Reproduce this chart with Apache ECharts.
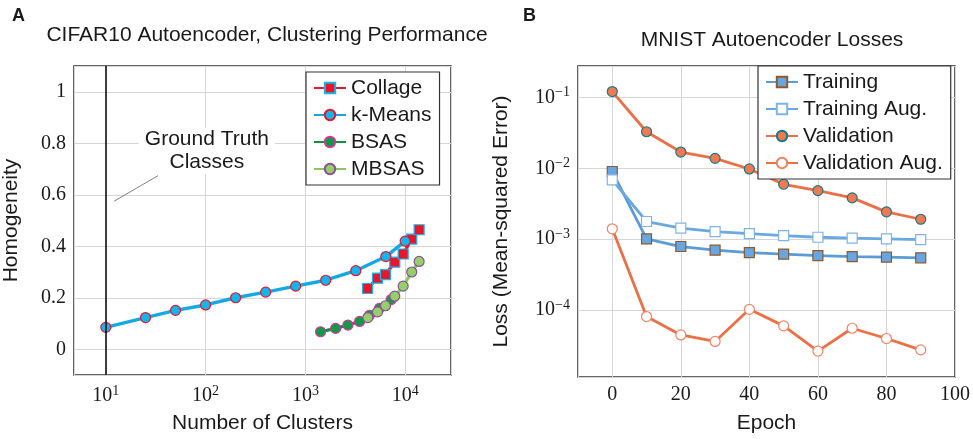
<!DOCTYPE html>
<html>
<head>
<meta charset="utf-8">
<script src="https://cdn.jsdelivr.net/npm/echarts@6/dist/echarts.min.js"></script>
<style>
    html, body { margin: 0; padding: 0; background: #fff; }
    #chart { width: 973px; height: 439px; }
</style>
</head>
<body>
<div id="chart"></div>
<script>
// panel A: CIFAR10 clustering
const kmeansClusters = [10, 25, 50, 100, 200, 400, 800, 1600, 3200, 6400, 10000]
const kmeansHomogeneity = [0.085, 0.123, 0.151, 0.172, 0.2, 0.222, 0.245, 0.268, 0.305, 0.36, 0.42]
const collageClusters = [4200, 5280, 6350, 7870, 9550, 11640, 13800]
const collageHomogeneity = [0.236, 0.276, 0.29, 0.338, 0.37, 0.428, 0.464]
const bsasClusters = [1420, 2010, 2670, 3490, 4400, 5530, 7240]
const bsasHomogeneity = [0.068, 0.081, 0.094, 0.108, 0.132, 0.159, 0.193]
const mbsasClusters = [4230, 5280, 6350, 7870, 9550, 11640, 13800]
const mbsasHomogeneity = [0.123, 0.145, 0.169, 0.206, 0.245, 0.3, 0.341]
const groundTruthClasses = 10

// panel B: MNIST losses
const epochs = [0, 10, 20, 30, 40, 50, 60, 70, 80, 90]
const trainingLoss = [0.00902, 0.00101, 0.000787, 0.0007, 0.000647, 0.000614, 0.000586, 0.000568, 0.000557, 0.000545]
const trainingAugLoss = [0.00689, 0.001775, 0.00143, 0.00128, 0.0012, 0.001125, 0.001064, 0.001032, 0.00101, 0.000987]
const validationLoss = [0.1215, 0.0329, 0.017, 0.01385, 0.0098, 0.00596, 0.00485, 0.00383, 0.00243, 0.00191]
const validationAugLoss = [0.0014, 0.0000807, 0.0000444, 0.0000359, 0.000102, 0.0000596, 0.0000262, 0.0000552, 0.0000395, 0.0000273]

const SANS = 'Liberation Sans'
const SERIF = 'Liberation Serif'
const INK = '#1a1a1a'

const zip = (xs, ys) => xs.map((x, i) => [x, ys[i]])

const powLabel = (v) => {
    const e = Math.round(Math.log10(v))
    return '{b|10}{s|' + (e < 0 ? '\u2212' + (-e) : e) + '}'
}

const powRich = {
    b: {fontFamily: SERIF, fontSize: 20, lineHeight: 24, color: INK},
    s: {fontFamily: SERIF, fontSize: 14, lineHeight: 15, verticalAlign: 'top', color: INK}
}

const splitLine = {show: true, lineStyle: {color: '#d6d6d6', width: 1}}

const lineSeries = (name, data, axis, color, symbol, fill, border, width) => ({
    name: name,
    type: 'line',
    xAxisIndex: axis,
    yAxisIndex: axis,
    data: data,
    symbol: symbol,
    symbolSize: symbol === 'rect' ? 10 : 10,
    showAllSymbol: true,
    lineStyle: {color: color, width: width},
    itemStyle: {color: fill, borderColor: border, borderWidth: 1.2},
    emphasis: {disabled: true},
    z: 3
})

const legendBase = {
    orient: 'vertical',
    backgroundColor: '#fff',
    borderColor: '#333',
    borderWidth: 1.2,
    borderRadius: 0,
    itemWidth: 32,
    itemHeight: 13,
    itemGap: 5,
    padding: [5, 8, 5, 7],
    textStyle: {fontFamily: SANS, fontSize: 21, color: INK, lineHeight: 22},
    z: 10
}

let chart = echarts.init(document.getElementById('chart'), null, {renderer: 'canvas'})
let options = {
    animation: false,
    backgroundColor: '#fff',
    title: [
        {text: 'A', left: 7, top: 2, textStyle: {fontFamily: SANS, fontSize: 18, fontWeight: 'bold', color: INK}},
        {text: 'CIFAR10 Autoencoder, Clustering Performance', left: 262, top: 20, textAlign: 'center',
            textStyle: {fontFamily: SANS, fontSize: 21, fontWeight: 'normal', color: INK}},
        {text: 'B', left: 518, top: 2, textStyle: {fontFamily: SANS, fontSize: 18, fontWeight: 'bold', color: INK}},
        {text: 'MNIST Autoencoder Losses', left: 767, top: 25, textAlign: 'center',
            textStyle: {fontFamily: SANS, fontSize: 21, fontWeight: 'normal', color: INK}}
    ],
    grid: [
        {left: 74, top: 66, width: 377, height: 311, show: true, borderColor: '#333', borderWidth: 1.5},
        {left: 578, top: 66, width: 377, height: 312, show: true, borderColor: '#333', borderWidth: 1.5}
    ],
    legend: [
        Object.assign({}, legendBase, {
            data: ['Collage', 'k-Means', 'BSAS', 'MBSAS'],
            left: 306, top: 72
        }),
        Object.assign({}, legendBase, {
            data: ['Training', 'Training Aug.', 'Validation', 'Validation Aug.'],
            left: 758, top: 66
        })
    ],
    xAxis: [
        {
            gridIndex: 0, type: 'log', min: 4.8, max: 28800,
            name: 'Number of Clusters', nameLocation: 'middle', nameGap: 38,
            nameTextStyle: {fontFamily: SANS, fontSize: 21, color: INK},
            axisLine: {show: false}, axisTick: {show: false},
            axisLabel: {formatter: powLabel, rich: powRich, margin: 9, showMinLabel: false, showMaxLabel: false},
            splitLine: splitLine
        },
        {
            gridIndex: 1, type: 'value', min: -10, max: 100,
            name: 'Epoch', nameLocation: 'middle', nameGap: 36,
            nameTextStyle: {fontFamily: SANS, fontSize: 21, color: INK},
            axisLine: {show: false}, axisTick: {show: false},
            axisLabel: {fontFamily: SERIF, fontSize: 20, color: INK, margin: 8, showMinLabel: false},
            splitLine: splitLine
        }
    ],
    yAxis: [
        {
            gridIndex: 0, type: 'value', min: -0.1, max: 1.1,
            name: 'Homogeneity', nameLocation: 'middle', nameGap: 52,
            nameTextStyle: {fontFamily: SANS, fontSize: 21, color: INK},
            axisLine: {show: false}, axisTick: {show: false},
            axisLabel: {fontFamily: SERIF, fontSize: 20, color: INK, margin: 8, showMinLabel: false, showMaxLabel: false},
            splitLine: splitLine
        },
        {
            gridIndex: 1, type: 'log', min: 1.13e-5, max: 0.279,
            name: 'Loss (Mean-squared Error)', nameLocation: 'middle', nameGap: 66,
            nameTextStyle: {fontFamily: SANS, fontSize: 21, color: INK},
            axisLine: {show: false}, axisTick: {show: false},
            axisLabel: {formatter: powLabel, rich: powRich, margin: 8, showMinLabel: false, showMaxLabel: false},
            splitLine: splitLine
        }
    ],
    series: [
        lineSeries('Collage', zip(collageClusters, collageHomogeneity), 0, '#e8162a', 'rect', '#e8162a', '#19b4ec', 3.2),
        Object.assign(
            lineSeries('k-Means', zip(kmeansClusters, kmeansHomogeneity), 0, '#14a9e4', 'circle', '#14b4ec', '#e8162a', 3.4),
            {
                markLine: {
                    silent: true,
                    symbol: 'none',
                    label: {show: false},
                    emphasis: {disabled: true},
                    data: [
                        {xAxis: groundTruthClasses, lineStyle: {color: '#111', width: 1.6, type: 'solid'}},
                        [
                            {coord: [12.1, 0.575], lineStyle: {color: '#808080', width: 1, type: 'solid'}},
                            {coord: [33.3, 0.674]}
                        ]
                    ]
                },
                markPoint: {
                    silent: true,
                    symbol: 'circle',
                    symbolSize: 0,
                    data: [{
                        coord: [103, 0.77],
                        label: {
                            show: true, position: 'inside',
                            formatter: 'Ground Truth\nClasses',
                            fontFamily: SANS, fontSize: 21, lineHeight: 23, color: INK,
                            backgroundColor: '#fff', padding: [0, 6]
                        }
                    }]
                }
            }
        ),
        lineSeries('BSAS', zip(bsasClusters, bsasHomogeneity), 0, '#0f8f3f', 'circle', '#0f9a44', '#d2379e', 3.2),
        lineSeries('MBSAS', zip(mbsasClusters, mbsasHomogeneity), 0, '#8cc860', 'circle', '#95cf68', '#8e4f9c', 3.2),

        lineSeries('Training', zip(epochs, trainingLoss), 1, '#5b9bd8', 'rect', '#68a6e2', '#8e5a2a', 2.8),
        lineSeries('Training Aug.', zip(epochs, trainingAugLoss), 1, '#6aa8e0', 'rect', '#ffffff', '#7eb3e8', 2.8),
        lineSeries('Validation', zip(epochs, validationLoss), 1, '#ec6f45', 'circle', '#f07a50', '#17788f', 2.8),
        lineSeries('Validation Aug.', zip(epochs, validationAugLoss), 1, '#ec6f45', 'circle', '#ffffff', '#f0835f', 2.8)
    ]
}
chart.setOption(options)
</script>
</body>
</html>
